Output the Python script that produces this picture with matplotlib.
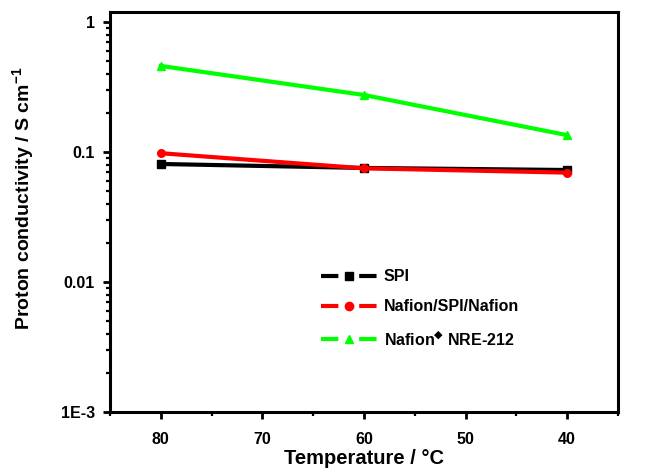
import matplotlib
matplotlib.use("Agg")
import matplotlib.pyplot as plt
from matplotlib.lines import Line2D
from matplotlib.legend_handler import HandlerTuple
from matplotlib.ticker import FixedLocator, NullFormatter, LogLocator, MultipleLocator

plt.rcParams['font.family'] = ['Liberation Sans', 'DejaVu Sans']
plt.rcParams['font.weight'] = 'bold'
plt.rcParams['mathtext.fontset'] = 'custom'
plt.rcParams['mathtext.rm'] = 'Liberation Sans:bold'
plt.rcParams['mathtext.bf'] = 'Liberation Sans:bold'
plt.rcParams['mathtext.sf'] = 'DejaVu Sans:bold'
plt.rcParams['mathtext.default'] = 'bf'
plt.rcParams['lines.scale_dashes'] = False

temperature = [80, 60, 40]
spi = [0.081, 0.0755, 0.0728]
sandwich = [0.098, 0.075, 0.0695]
nre212 = [0.46, 0.275, 0.135]

labels = ["SPI", "Nafion/SPI/Nafion", "Nafion$^{\\mathsf{\u25c6}}$ NRE-212"]
colors = ["#000000", "#ff0000", "#00ff00"]
markers = ["s", "o", "^"]

y_ticks = [1, 0.1, 0.01, 0.001]
y_ticklabels = ["1", "0.1", "0.01", "1E-3"]
x_ticks = [80, 70, 60, 50, 40]

fig = plt.figure(figsize=(6.47, 4.72), dpi=100)
ax = fig.add_axes([0.170, 0.127, 0.785, 0.848])

series = [spi, sandwich, nre212]
for vals, c, m in zip(series, colors, markers):
    ax.plot(temperature, vals, color=c, lw=3.0, marker=m, markersize=5.5,
            markeredgecolor=c, markerfacecolor=c)

ax.set_yscale("log")
ax.set_ylim(1e-3, 1.2)
ax.set_xlim(85, 35)

ax.yaxis.set_major_locator(FixedLocator(y_ticks))
ax.set_yticklabels(y_ticklabels)
ax.yaxis.set_minor_locator(LogLocator(base=10, subs=range(2, 10), numticks=20))
ax.yaxis.set_minor_formatter(NullFormatter())
ax.xaxis.set_major_locator(FixedLocator(x_ticks))
ax.xaxis.set_minor_locator(MultipleLocator(5))

for s in ax.spines.values():
    s.set_linewidth(2.2)

ax.tick_params(which="major", direction="out", length=5, width=2.0,
               labelsize=11.5, top=False, right=False)
ax.tick_params(axis="x", which="major", pad=9)
ax.tick_params(axis="y", which="major", pad=6)
ax.tick_params(which="minor", direction="out", length=3, width=1.6,
               top=False, right=False)

ax.set_xlabel("Temperature / °C", fontsize=14.5, fontweight="bold", labelpad=2)
ax.set_ylabel("Proton conductivity / S cm$^{-1}$", fontsize=14,
              fontweight="bold")
ax.yaxis.set_label_coords(-0.146, 0.535)

handles = []
for c, m in zip(colors, markers):
    seg = Line2D([], [], color=c, lw=3.0, linestyle=(0, (12.5, 15)))
    mk = Line2D([], [], color=c, lw=0, marker=m, markersize=6)
    handles.append((seg, mk))

ax.legend(handles, labels, handler_map={tuple: HandlerTuple(ndivide=1)},
          loc="upper left", bbox_to_anchor=(0.415, 0.357), frameon=False,
          handlelength=3.5, handletextpad=0.45,
          labelspacing=0.95, borderpad=0, borderaxespad=0,
          prop={"weight": "bold", "size": 11.5})

fig.savefig("out.png", dpi=100)
